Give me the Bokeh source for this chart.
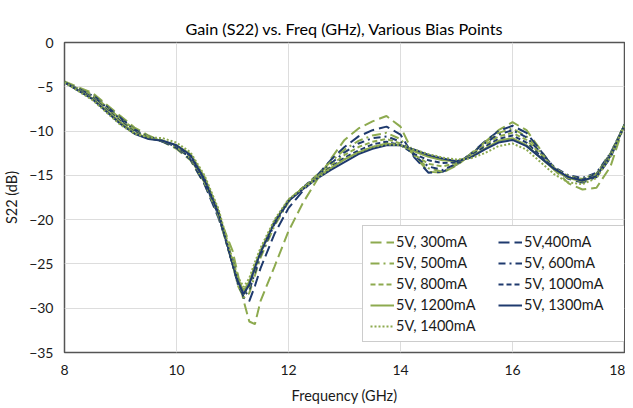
from bokeh.plotting import figure
from bokeh.models import Legend, LegendItem, FixedTicker
from bokeh.embed import file_html
from bokeh.resources import INLINE

freq = [8.0, 8.5, 9.0, 9.25, 9.5, 9.75, 10.0, 10.25, 10.5, 10.75, 11.0, 11.1, 11.2, 11.3, 11.4,
        11.5, 11.75, 12.0, 12.25, 12.5, 12.75, 13.0, 13.25, 13.5, 13.75, 14.0, 14.25, 14.5, 14.75,
        15.0, 15.25, 15.5, 15.75, 16.0, 16.25, 16.5, 16.75, 17.0, 17.25, 17.5, 17.75, 18.0]

s300 = [-4.4, -5.7, -8.3, -9.6, -10.5, -11.2, -12.0, -13.3, -16.0, -19.5, -23.5, -26.3, -29.2, -31.5, -31.8,
        -29.2, -25.3, -21.3, -18.2, -15.6, -13.2, -11.0, -9.7, -8.9, -8.3, -9.5, -12.8, -14.6, -14.7,
        -13.9, -12.7, -11.3, -9.9, -9.0, -9.9, -12.1, -14.4, -15.9, -16.6, -16.4, -14.0, -9.2]
s400 = [-4.5, -5.9, -8.5, -9.8, -10.6, -11.2, -11.9, -13.2, -16.0, -19.8, -24.5, -26.9, -28.8, -29.2, -27.5,
        -25.5, -21.6, -18.7, -16.8, -15.1, -13.3, -11.8, -10.6, -9.9, -9.5, -10.4, -13.0, -14.7, -14.6,
        -13.8, -12.6, -11.2, -10.0, -9.4, -10.2, -12.2, -14.2, -15.4, -15.8, -15.2, -13.0, -9.3]
s500 = [-4.5, -5.9, -8.6, -9.8, -10.6, -11.1, -11.8, -13.1, -15.8, -19.6, -25.0, -27.5, -28.8, -28.3, -26.3,
        -24.3, -20.7, -18.0, -16.4, -15.0, -13.5, -12.1, -11.1, -10.5, -10.2, -10.9, -12.8, -14.2, -14.6,
        -13.8, -12.6, -11.3, -10.2, -9.7, -10.6, -12.4, -14.2, -15.2, -15.5, -14.9, -12.8, -9.3]
s600 = [-4.5, -6.0, -8.7, -9.9, -10.7, -11.1, -11.8, -13.0, -15.7, -19.5, -25.0, -27.4, -28.6, -28.0, -26.0,
        -24.0, -20.5, -17.9, -16.4, -15.1, -13.7, -12.4, -11.4, -10.8, -10.6, -11.2, -12.8, -14.0, -14.4,
        -13.7, -12.6, -11.4, -10.4, -9.9, -10.7, -12.4, -14.1, -15.0, -15.3, -14.7, -12.5, -9.3]
s800 = [-4.5, -6.1, -8.8, -10.0, -10.8, -11.1, -11.7, -12.9, -15.6, -19.4, -25.0, -27.3, -28.4, -27.6, -25.6,
        -23.8, -20.3, -17.8, -16.4, -15.2, -13.9, -12.7, -11.8, -11.2, -10.9, -11.4, -12.7, -13.7, -14.0,
        -13.6, -12.7, -11.6, -10.6, -10.2, -11.0, -12.6, -14.2, -15.1, -15.4, -14.8, -12.5, -9.3]
s1000 = [-4.5, -6.2, -8.9, -10.1, -10.8, -11.1, -11.7, -12.8, -15.5, -19.3, -25.0, -27.2, -28.3, -27.4, -25.4,
         -23.6, -20.2, -17.8, -16.5, -15.3, -14.1, -13.0, -12.2, -11.5, -11.2, -11.6, -12.6, -13.3, -13.6,
         -13.5, -12.8, -11.8, -10.9, -10.5, -11.3, -12.8, -14.3, -15.2, -15.5, -14.9, -12.6, -9.3]
s1200 = [-4.5, -6.3, -9.0, -10.2, -10.8, -11.1, -11.6, -12.6, -15.2, -19.0, -24.8, -26.8, -28.0, -27.0, -25.2,
         -23.5, -20.2, -17.8, -16.5, -15.3, -14.2, -13.2, -12.4, -11.8, -11.4, -11.6, -12.3, -12.9, -13.3,
         -13.4, -12.9, -12.0, -11.1, -10.8, -11.6, -13.0, -14.4, -15.3, -15.7, -15.0, -12.7, -9.3]
s1300 = [-4.5, -6.4, -9.2, -10.3, -10.9, -11.1, -11.6, -12.7, -15.4, -19.2, -25.0, -27.0, -28.4, -27.3, -25.4,
         -23.7, -20.3, -17.9, -16.6, -15.4, -14.4, -13.5, -12.6, -12.0, -11.6, -11.6, -12.1, -12.7, -13.1,
         -13.4, -13.0, -12.1, -11.3, -11.0, -11.7, -13.0, -14.3, -15.2, -15.6, -15.1, -12.8, -9.3]
s1400 = [-4.5, -6.5, -9.3, -10.3, -10.7, -10.8, -11.3, -12.4, -15.0, -18.8, -24.5, -26.5, -27.6, -26.6, -24.8,
         -23.2, -20.0, -17.7, -16.5, -15.4, -14.2, -13.2, -12.4, -11.8, -11.5, -11.6, -12.1, -12.6, -13.0,
         -13.2, -13.1, -12.5, -11.7, -11.4, -12.1, -13.5, -14.9, -15.8, -16.0, -15.3, -12.9, -9.3]

labels = ["5V, 300mA", "5V,400mA", "5V, 500mA", "5V, 600mA", "5V, 800mA",
          "5V, 1000mA", "5V, 1200mA", "5V, 1300mA", "5V, 1400mA"]
x_ticks = [8, 10, 12, 14, 16, 18]
y_ticks = [0, -5, -10, -15, -20, -25, -30, -35]

GREEN = "#8DAA4F"
NAVY = "#1F3A6E"
series = [s300, s400, s500, s600, s800, s1000, s1200, s1300, s1400]
colors = [GREEN, NAVY, GREEN, NAVY, GREEN, NAVY, GREEN, NAVY, GREEN]
dashes = ["11 5", "11 5", "9 4 2 4", "7 4 2 4", "5 3", "5 3", "solid", "solid", "2 2"]

p = figure(frame_width=560, frame_height=310, min_border_left=56, min_border_right=1,
           min_border_top=42, min_border_bottom=48,
           x_range=(8, 18), y_range=(-35, 0),
           output_backend="svg", toolbar_location=None,
           title="Gain (S22) vs. Freq (GHz), Various Bias Points")

p.title.align = "center"
p.title.text_font = "Lato"
p.title.text_font_size = "16.2px"
p.title.text_font_style = "normal"
p.title.text_color = "#000000"
p.title.offset = 0

p.outline_line_color = "#555555"
p.outline_line_width = 1.5
p.background_fill_color = "white"
p.border_fill_color = "white"

p.xaxis.ticker = FixedTicker(ticks=x_ticks)
p.yaxis.ticker = FixedTicker(ticks=y_ticks)
for ax in (p.xaxis[0], p.yaxis[0]):
    ax.major_tick_line_color = None
    ax.minor_tick_line_color = None
    ax.axis_line_color = None
    ax.major_label_text_font = "Lato"
    ax.major_label_text_font_size = "14px"
    ax.major_label_text_color = "#1a1a1a"
    ax.axis_label_text_font = "Lato"
    ax.axis_label_text_font_size = "14.5px"
    ax.axis_label_text_font_style = "normal"
    ax.axis_label_text_color = "#1a1a1a"
p.xaxis.axis_label = "Frequency (GHz)"
p.yaxis.axis_label = "S22 (dB)"
p.xaxis.major_label_standoff = 6
p.yaxis.major_label_standoff = 5
p.xaxis.axis_label_standoff = 9
p.yaxis.axis_label_standoff = 6

p.xgrid.grid_line_color = "#dddddd"
p.ygrid.grid_line_color = "#dddddd"
p.xgrid.grid_line_width = 1
p.ygrid.grid_line_width = 1

renderers = []
for ys, c, d in zip(series, colors, dashes):
    renderers.append(p.line(freq, ys, line_color=c, line_width=2, line_dash=d))

# Legend fills column-wise: first column 300/500/800/1200/1400, second 400/600/1000/1300
order = [0, 2, 4, 6, 8, 1, 3, 5, 7]
items = [LegendItem(label=labels[i], renderers=[renderers[i]]) for i in order]

legend = Legend(items=items, ncols=2, location=(298, 10))
legend.label_text_font = "Lato"
legend.label_text_font_size = "14.5px"
legend.label_text_color = "#1a1a1a"
legend.glyph_width = 24
legend.glyph_height = 14
legend.label_height = 14
legend.label_width = 98
legend.label_standoff = 2
legend.spacing = 4
legend.padding = 7
legend.margin = 0
legend.border_line_color = "#999999"
legend.border_line_width = 1
legend.background_fill_color = "white"
legend.background_fill_alpha = 1
p.add_layout(legend, "center")

open("out.html", "w").write(file_html(p, INLINE))
